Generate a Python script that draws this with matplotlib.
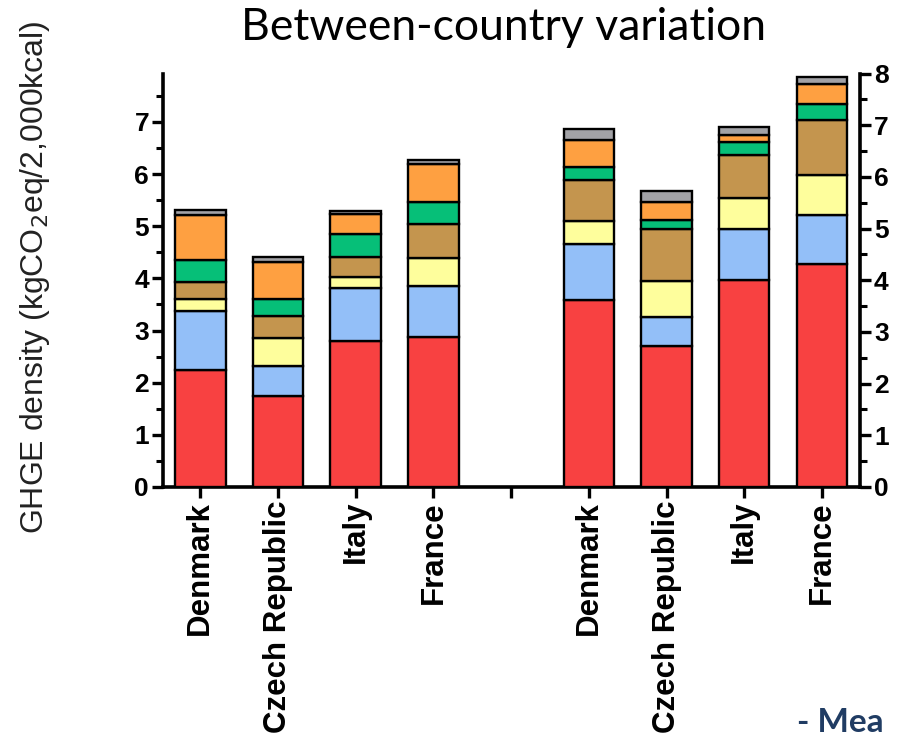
import matplotlib
matplotlib.use("Agg")
import matplotlib.pyplot as plt
import numpy as np
from matplotlib.ticker import MultipleLocator

# countries, two groups of four bars (left group on left axis, right group on right axis)
countries = ["Denmark", "Czech Republic", "Italy", "France"]

# stacked segment heights, bottom to top, per group
red_left = [2.24, 1.75, 2.80, 2.88]
blue_left = [1.14, 0.57, 1.01, 0.98]
yellow_left = [0.23, 0.53, 0.21, 0.54]
brown_left = [0.33, 0.43, 0.39, 0.65]
green_left = [0.41, 0.32, 0.44, 0.41]
orange_left = [0.87, 0.72, 0.39, 0.73]
grey_left = [0.10, 0.09, 0.06, 0.09]

red_right = [3.61, 2.72, 4.00, 4.31]
blue_right = [1.10, 0.56, 0.99, 0.96]
yellow_right = [0.44, 0.71, 0.60, 0.76]
brown_right = [0.78, 1.00, 0.84, 1.08]
green_right = [0.26, 0.18, 0.24, 0.30]
orange_right = [0.53, 0.35, 0.14, 0.38]
grey_right = [0.21, 0.21, 0.15, 0.15]

COLORS = ["#f84141", "#93bff8", "#fefe9c", "#c4954e", "#06bf78", "#fea041", "#a2a2a6"]

plt.rcParams.update({"font.family": ["Liberation Sans", "DejaVu Sans"]})

fig = plt.figure(figsize=(8.98, 7.40), dpi=100)
ax = fig.add_axes([163 / 898, (740 - 487) / 740, (860 - 163) / 898, (487 - 73.5) / 740])
ax2 = ax.twinx()

left_layers = [red_left, blue_left, yellow_left, brown_left, green_left, orange_left, grey_left]
right_layers = [red_right, blue_right, yellow_right, brown_right, green_right, orange_right, grey_right]

xl = np.arange(4)
xr = np.arange(5, 9)
w = 0.65
bl = np.zeros(4)
br = np.zeros(4)
for vals_l, vals_r, c in zip(left_layers, right_layers, COLORS):
    ax.bar(xl, vals_l, w, bottom=bl, color=c, edgecolor="black", lw=1.7, zorder=3)
    ax2.bar(xr, vals_r, w, bottom=br, color=c, edgecolor="black", lw=1.7, zorder=3)
    bl += np.array(vals_l)
    br += np.array(vals_r)

ax.set_xlim(-0.48, 8.49)
ax.set_ylim(0, 7.93)
ax2.set_ylim(0, 8.0)

for a in (ax, ax2):
    a.spines["top"].set_visible(False)
    for s in a.spines.values():
        s.set_linewidth(2.6)

ax.spines["right"].set_visible(False)
ax2.spines["left"].set_visible(False)
ax2.spines["bottom"].set_visible(False)

for a in (ax, ax2):
    a.yaxis.set_major_locator(MultipleLocator(1))
    a.yaxis.set_minor_locator(MultipleLocator(0.5))
    a.tick_params(axis="y", which="major", length=8, width=2.4, labelsize=19, pad=2)
    a.tick_params(axis="y", which="minor", length=5, width=2.2)
for lab in ax.get_yticklabels() + ax2.get_yticklabels():
    lab.set_fontweight("bold")

ax.set_xticks(np.arange(9))
ax.set_xticklabels(countries + [""] + countries, rotation=90, fontsize=22.5,
                   fontweight="bold", va="top")
ax.tick_params(axis="x", length=8, width=2.4, pad=2)

fig.text(503 / 898, 1 - 28 / 740, "Between-country variation", fontsize=32,
         ha="center", va="center", family=["Lato", "DejaVu Sans"])
fig.text(35 / 898, 1 - 277 / 740, "GHGE density (kgCO$_2$eq/2,000kcal)",
         fontsize=23, rotation=90, ha="center", va="center", color="#222222")
fig.text(797 / 898, 1 - 722 / 740, "- Mea", fontsize=24, fontweight="bold",
         color="#203c63", ha="left", va="center", family=["Lato", "DejaVu Sans"])

fig.savefig("out.png", dpi=100)
